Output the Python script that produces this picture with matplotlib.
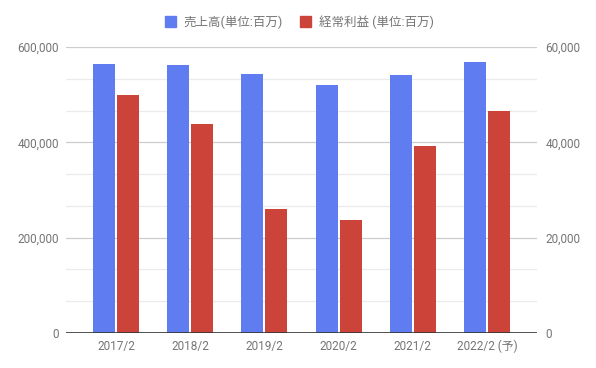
import matplotlib
matplotlib.use("Agg")
import matplotlib.pyplot as plt
import numpy as np
from matplotlib.ticker import FuncFormatter
from matplotlib.patches import Patch

plt.rcParams['font.family'] = ['Roboto', 'Noto Sans CJK JP', 'DejaVu Sans']

categories = ["2017/2", "2018/2", "2019/2", "2020/2", "2021/2", "2022/2 (予)"]
sales = [564000, 562000, 543000, 520000, 541000, 568000]
profit = [49900, 43900, 26000, 23700, 39200, 46600]
sales_label = "売上高(単位:百万)"
profit_label = "経常利益 (単位:百万)"

blue = "#5f7cf0"
red = "#cc4439"
txt = "#757575"

fig = plt.figure(figsize=(5.96, 3.68), dpi=100)
ax = fig.add_axes([66/596, 35/368, 471/596, 286/368])
ax2 = ax.twinx()

x = np.arange(len(categories))
w = 0.296
off = 0.162
ax.bar(x - off, sales, width=w, color=blue, zorder=3)
ax2.bar(x + off, profit, width=w, color=red, zorder=3)

ax.set_ylim(0, 600000)
ax2.set_ylim(0, 60000)
ax.set_xlim(-0.674, 5.674)

# gridlines on the (lower) right axis, in its units
for i in range(1, 10):
    v = i * 60000 / 9
    c = "#cccccc" if i % 3 == 0 else "#ebebeb"
    ax2.axhline(v, color=c, lw=0.9, zorder=0)
ax.axhline(0, color="#333333", lw=1.2, zorder=4)

ax.set_yticks([0, 200000, 400000, 600000])
ax2.set_yticks([0, 20000, 40000, 60000])
fmt = FuncFormatter(lambda v, p: f"{int(v):,}")
ax.yaxis.set_major_formatter(fmt)
ax2.yaxis.set_major_formatter(fmt)
ax.set_xticks(x)
ax.set_xticklabels(categories)

for a in (ax, ax2):
    for s in a.spines.values():
        s.set_visible(False)
    a.tick_params(length=0, colors=txt, labelsize=8.5)
ax.tick_params(axis='y', pad=5)
ax2.tick_params(axis='y', pad=6)
ax.tick_params(axis='x', pad=5)
ax.set_zorder(ax2.get_zorder() + 1)
ax.patch.set_visible(False)

handles = [Patch(color=blue, label=sales_label), Patch(color=red, label=profit_label)]
fig.legend(handles=handles, loc="center", bbox_to_anchor=(0.502, 1 - 22/368), ncol=2,
           frameon=False, fontsize=9, labelcolor=txt, handlelength=0.9, handleheight=0.9,
           columnspacing=1.4, handletextpad=0.6)

fig.savefig("out.png", dpi=100)
